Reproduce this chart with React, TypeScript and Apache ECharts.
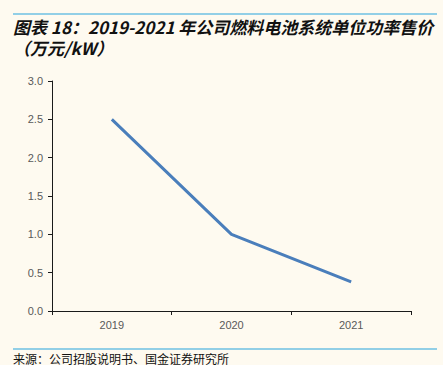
import React, { useEffect, useRef } from "react";
import * as echarts from "echarts";

const categories = ["2019", "2020", "2021"];
const priceValues = [2.5, 1.0, 0.38];
const yTicks = [0, 0.5, 1, 1.5, 2, 2.5, 3];

const titleLine1 = "图表 18：2019-2021 年公司燃料电池系统单位功率售价";
const titleLine2 = "（万元/kW）";
const sourceText = "来源：公司招股说明书、国金证券研究所";

export default function App() {
  const ref = useRef<HTMLDivElement>(null);
  useEffect(() => {
    if (!ref.current) return;
    const chart = echarts.init(ref.current, null, { renderer: "svg" });
    const titleStyle = {
      fontSize: 17,
      lineHeight: 20,
      fontWeight: "bold",
      fontStyle: "italic",
      fontFamily: "Noto Sans CJK SC",
      fill: "#111",
    };
    chart.setOption({
      animation: false,
      backgroundColor: "#FEFAF0",
      grid: { left: 52, right: 32, top: 81, bottom: 54 },
      xAxis: {
        type: "category",
        data: categories,
        boundaryGap: true,
        axisLine: { lineStyle: { color: "#1a1a1a", width: 1 } },
        axisTick: { show: true, length: 4, lineStyle: { color: "#1a1a1a" } },
        axisLabel: { color: "#595959", fontSize: 11, margin: 8, fontFamily: "Liberation Sans" },
      },
      yAxis: {
        type: "value",
        min: yTicks[0],
        max: yTicks[yTicks.length - 1],
        interval: 0.5,
        axisLine: { show: true, lineStyle: { color: "#1a1a1a", width: 1 } },
        axisTick: { show: true, length: 4, lineStyle: { color: "#1a1a1a" } },
        splitLine: { show: false },
        axisLabel: {
          color: "#595959",
          fontSize: 11,
          margin: 9,
          fontFamily: "Liberation Sans",
          formatter: (v: number) => v.toFixed(1),
        },
      },
      series: [
        {
          type: "line",
          data: priceValues,
          symbol: "none",
          lineStyle: { color: "#4A7EBB", width: 3 },
        },
      ],
      graphic: [
        { type: "line", shape: { x1: 13, y1: 14, x2: 437, y2: 14 }, style: { stroke: "#27A4DD", lineWidth: 1 } },
        { type: "line", shape: { x1: 13, y1: 349, x2: 437, y2: 349 }, style: { stroke: "#27A4DD", lineWidth: 1 } },
        { type: "text", left: 13, top: 16, style: { ...titleStyle, text: titleLine1 } },
        { type: "text", left: 13, top: 37, style: { ...titleStyle, text: titleLine2 } },
        {
          type: "text",
          left: 13,
          top: 352,
          style: {
            text: sourceText,
            fontSize: 12,
            lineHeight: 13,
            fontFamily: "Noto Sans CJK SC",
            fill: "#111",
          },
        },
      ],
    });
    return () => chart.dispose();
  }, []);
  return <div ref={ref} style={{ width: 443, height: 365, position: "fixed", left: 0, top: 0 }} />;
}
